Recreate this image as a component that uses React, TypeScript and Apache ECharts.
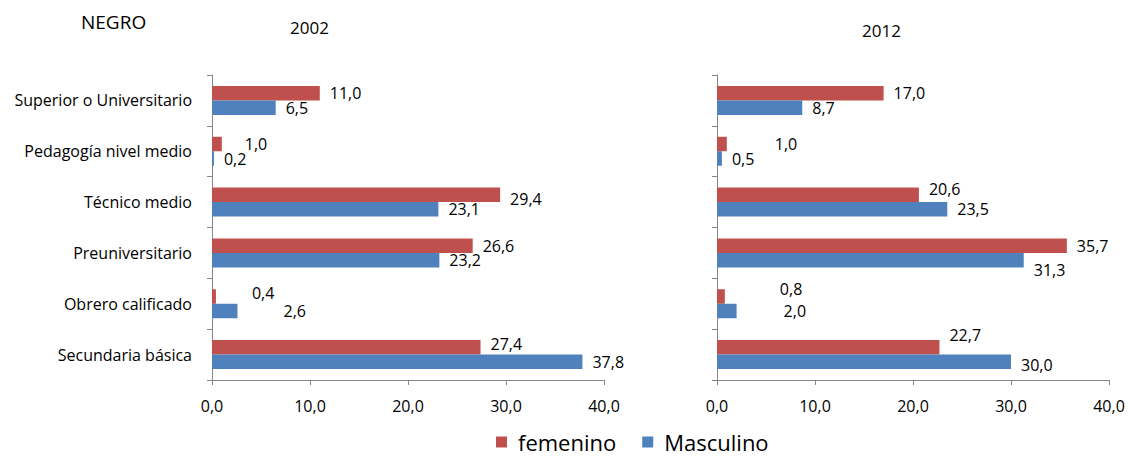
import React, { useEffect, useRef } from "react";
import * as echarts from "echarts";

const categories = [
  "Superior o Universitario",
  "Pedagogía nivel medio",
  "Técnico medio",
  "Preuniversitario",
  "Obrero calificado",
  "Secundaria básica",
];
const fem2002 = [11.0, 1.0, 29.4, 26.6, 0.4, 27.4];
const masc2002 = [6.5, 0.2, 23.1, 23.2, 2.6, 37.8];
const fem2012 = [17.0, 1.0, 20.6, 35.7, 0.8, 22.7];
const masc2012 = [8.7, 0.5, 23.5, 31.3, 2.0, 30.0];
const xTicks = [0, 10, 20, 30, 40];

// label shifts (layout only), [dx, dy] per category
const shiftFem2002 = [[0, 0], [13, 0], [0, 4], [0, 0], [26, -4], [0, -3]];
const shiftMasc2002 = [[0, 0], [0, 0], [0, 0], [0, 0], [36, 0], [0, 0]];
const shiftFem2012 = [[0, 0], [38, 0], [0, -6], [0, 0], [45, -8], [0, -12]];
const shiftMasc2012 = [[0, 0], [0, 0], [0, 0], [0, 10], [37, 0], [0, 3]];

const RED = "#C0504D";
const BLUE = "#4F81BD";
const AXIS = "#868686";
const FONT = "Open Sans";

const fmt = (v: number) => v.toFixed(1).replace(".", ",");

function mkData(vals: number[], shifts: number[][]) {
  return vals.map((v, i) => ({ value: v, label: { offset: shifts[i] } }));
}

export default function App() {
  const ref = useRef<HTMLDivElement>(null);
  useEffect(() => {
    if (!ref.current) return;
    const chart = echarts.init(ref.current, undefined, { renderer: "svg" });
    const grids = [
      { left: 212, right: 524, top: 75, bottom: 78 },
      { left: 717, right: 19, top: 75, bottom: 78 },
    ];
    const xAxis = [0, 1].map((g) => ({
      type: "value",
      gridIndex: g,
      min: 0,
      max: 40,
      interval: 10,
      splitLine: { show: false },
      axisLine: { show: true, lineStyle: { color: AXIS } },
      axisTick: { show: true, length: 5, lineStyle: { color: AXIS } },
      axisLabel: {
        formatter: (v: number) => fmt(v),
        color: "#000",
        fontFamily: FONT,
        fontSize: 16,
        margin: 18,
        customValues: xTicks,
      },
    }));
    const yAxis = [0, 1].map((g) => ({
      type: "category",
      gridIndex: g,
      data: categories,
      inverse: true,
      axisLine: { show: true, lineStyle: { color: AXIS } },
      axisTick: { show: true, length: 5, lineStyle: { color: AXIS } },
      axisLabel: {
        show: g === 0,
        color: "#000",
        fontFamily: FONT,
        fontSize: 16,
        margin: 20,
      },
    }));
    const label = {
      show: true,
      position: "right",
      distance: 10,
      color: "#000",
      fontFamily: FONT,
      fontSize: 16,
      formatter: (p: any) => fmt(p.value),
    };
    const mk = (name: string, color: string, vals: number[], shifts: number[][], g: number) => ({
      type: "bar",
      name,
      xAxisIndex: g,
      yAxisIndex: g,
      data: mkData(vals, shifts),
      barWidth: 14.5,
      barGap: "0%",
      itemStyle: { color },
      label,
    });
    chart.setOption({
      animation: false,
      textStyle: { fontFamily: FONT },
      title: [
        { text: "NEGRO", left: 76, top: 7, textStyle: { fontSize: 19, fontWeight: "normal", color: "#000", fontFamily: FONT } },
        { text: "2002", left: 285, top: 14, textStyle: { fontSize: 17, fontWeight: "normal", color: "#000", fontFamily: FONT } },
        { text: "2012", left: 857, top: 17, textStyle: { fontSize: 17, fontWeight: "normal", color: "#000", fontFamily: FONT } },
      ],
      legend: {
        left: 496,
        bottom: 5,
        padding: 0,
        itemWidth: 11,
        itemHeight: 11,
        itemGap: 26,
        icon: "rect",
        textStyle: { fontSize: 22, color: "#000", fontFamily: FONT, padding: [0, 0, 0, 6] },
        data: ["femenino", "Masculino"],
      },
      grid: grids,
      xAxis,
      yAxis,
      series: [
        mk("femenino", RED, fem2002, shiftFem2002, 0),
        mk("Masculino", BLUE, masc2002, shiftMasc2002, 0),
        mk("femenino", RED, fem2012, shiftFem2012, 1),
        mk("Masculino", BLUE, masc2012, shiftMasc2012, 1),
      ],
    });
    return () => chart.dispose();
  }, []);
  return (
    <div
      ref={ref}
      style={{ position: "absolute", left: 0, top: 0, width: 1128, height: 458, background: "#fff" }}
    />
  );
}
